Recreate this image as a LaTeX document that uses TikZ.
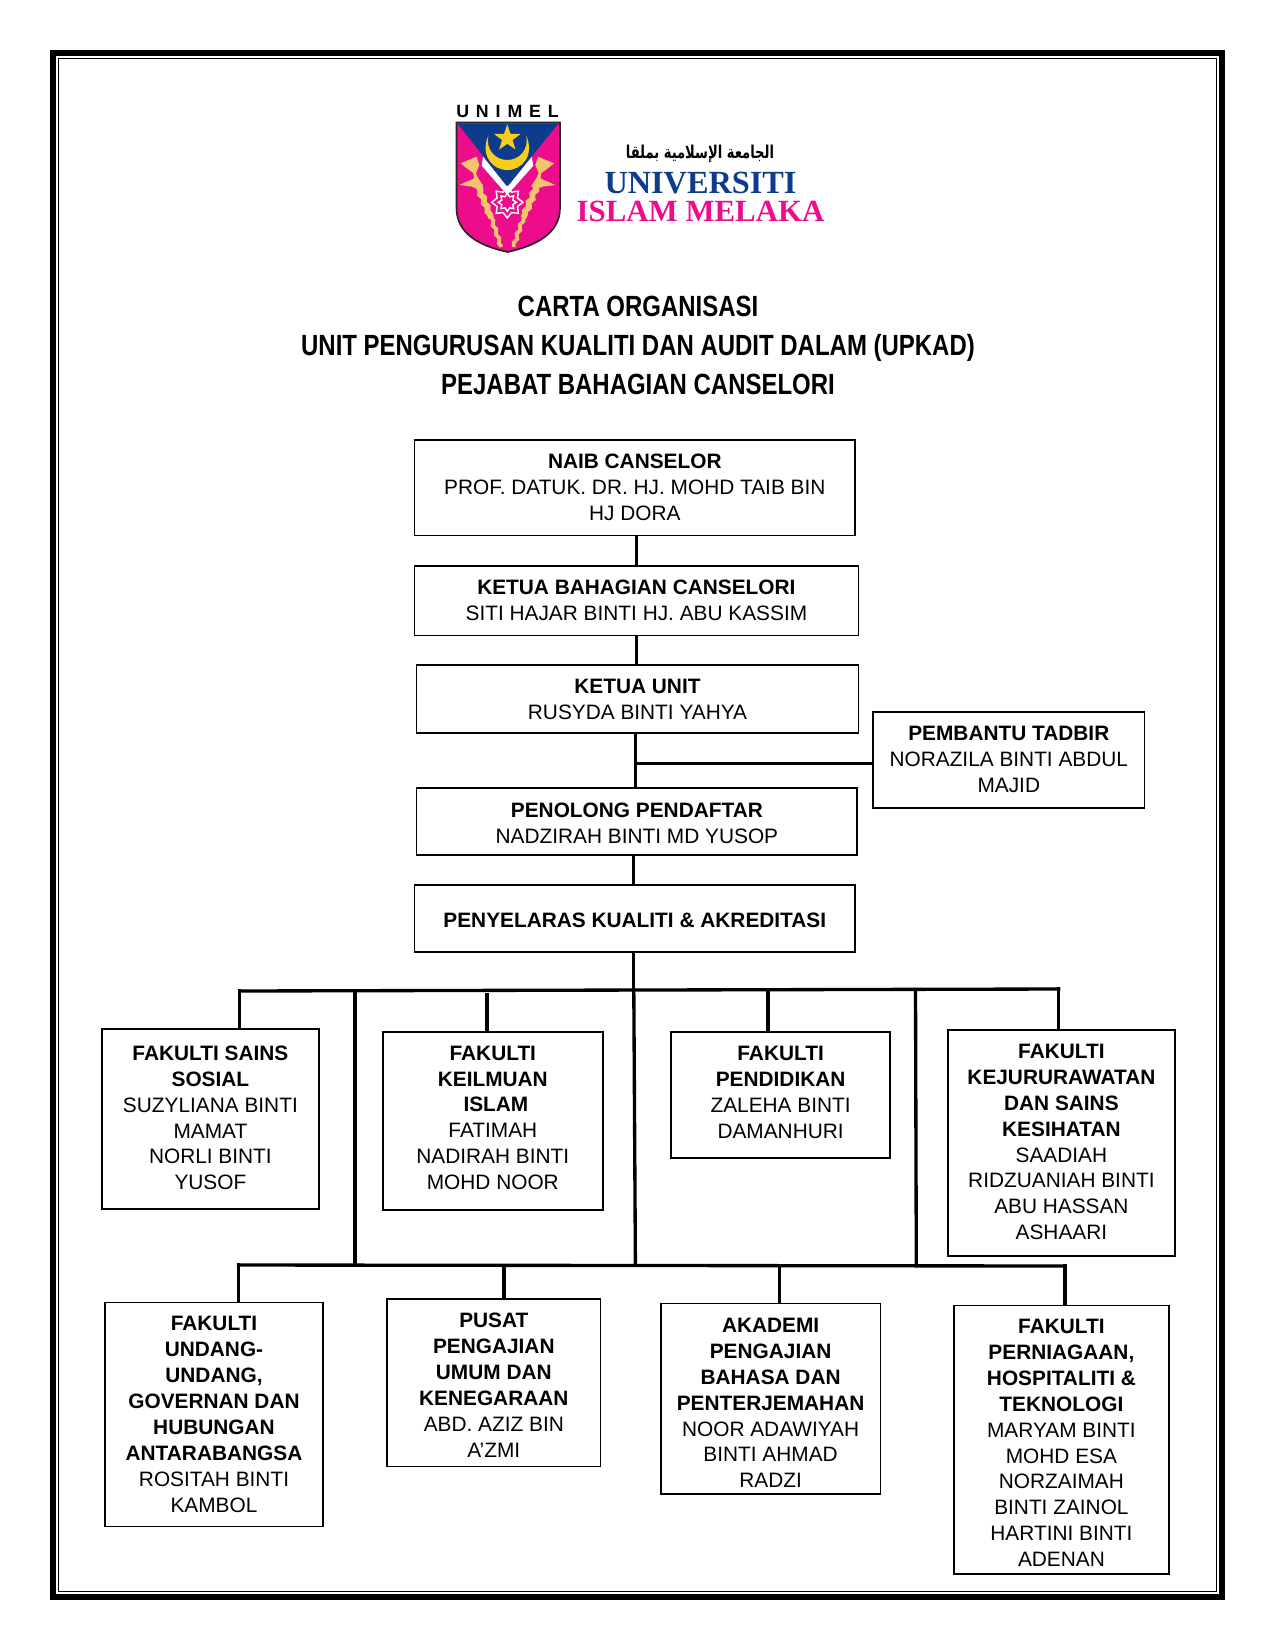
\documentclass[tikz,border=0pt]{standalone}
\usepackage{fontspec}
\setmainfont{Liberation Sans}
\newfontfamily\judulfont[FakeStretch=0.82]{Liberation Sans}
\newfontfamily\logofont{Liberation Serif}
\newfontfamily\arabicfont[Script=Arabic,FakeStretch=0.74]{DejaVu Sans}
\TeXXeTstate=1
\usepackage{xcolor}
\usetikzlibrary{calc,decorations.pathmorphing}
\definecolor{unimelbiru}{HTML}{0D3C8C}
\definecolor{unimelpink}{HTML}{EC0C8C}
\definecolor{unimelemas}{HTML}{F2C46E}
\definecolor{unimelkuning}{HTML}{F7CE1B}
\tikzstyle{jawatan}=[draw, line width=0.85pt, align=center, inner sep=0pt,
  font=\fontsize{10}{12.45}\selectfont]
\tikzstyle{line}=[draw, line width=1.6pt, color=black, line cap=rect]
\tikzstyle{judul}=[align=center, font=\judulfont\bfseries\fontsize{14.03}{18.7}\selectfont]
\tikzstyle{batang}=[unimelemas, decorate, decoration={snake, amplitude=0.55pt, segment length=4.5pt}]
\newcommand{\kotak}[4]{node (p#1) [jawatan, minimum width=#2*0.48pt,
  minimum height=#3*0.48pt] {#4}}
\newcommand{\tajuk}[1]{\textbf{#1}}
\newcommand{\naik}[1]{\rule[-#1]{0pt}{#1}}
\newcommand{\turun}[1]{\rule{0pt}{#1}}

\begin{document}
\begin{tikzpicture}[x=0.48pt,y=-0.48pt]
\useasboundingbox (0,0) rectangle (1275,1650);

  % Page border
\draw [line width=3pt] (53.2,53.2) rectangle (1222.2,1596.8);
\draw [line width=0.7pt] (58.5,58.5) rectangle (1216.7,1591.7);

  % Logo
\path [fill=unimelpink, draw=black!85, line width=0.8pt] (456.5,122.5) -- (560,122.5) -- (560,208)
  .. controls (560,234) and (535,246) .. (507.5,252)
  .. controls (480,246) and (456.5,234) .. (456.5,208) -- cycle;
\fill [white] (483,156.7) -- (507.3,186.7) -- (531.7,156.7) -- (533.3,165.7)
  -- (507.3,195) -- (481.7,165.7) -- cycle;
\fill [unimelbiru] (458,124) -- (558,124) -- (507.3,186.7) -- cycle;
\fill [unimelkuning] (488.3,135.7) .. controls (480,155) and (492,170) .. (507.3,170)
  .. controls (522.6,170) and (534.6,155) .. (526.3,135.7)
  .. controls (529,150) and (519,160) .. (507.3,160)
  .. controls (495.6,160) and (485.6,150) .. (488.3,135.7) -- cycle;
\fill [unimelkuning] (507.3,124.3) \foreach \i [evaluate=\i as \r using {mod(\i,2)==0?14:5.5}] in {1,...,9}
  { -- ($(507.3,138.3)+({-90+36*\i}:\r)$) } -- cycle;
\foreach \sisi in {1,-1}{
  \begin{scope}[shift={(507.3,0)},xscale=\sisi]
    \fill [unimelemas] (-46.7,163.3) -- (-30.7,156.7) -- (-28,165) -- (-31.3,173.3)
      -- (-29,178.3) -- (-24,186) -- (-27,190) -- (-36,186.5) -- (-48,185)
      -- (-33.3,178.5) -- (-34,173) -- (-40.7,168.3) -- cycle;
    \draw [batang, line width=2.8pt] (-29,187) -- (-16,218);
    \draw [batang, line width=1.8pt] (-16,218) -- (-6,247);
  \end{scope}
}
\draw [white, line width=0.7pt] (507.3,186.6) \foreach \i [evaluate=\i as \r using {mod(\i,2)==0?15.7:11}] in {1,...,15}
  { -- ($(507.3,202.3)+({-90+22.5*\i}:\r)$) } -- cycle;
\draw [white, line width=0.7pt] (507.3,193.3) \foreach \i [evaluate=\i as \r using {mod(\i,2)==0?9:6}] in {1,...,15}
  { -- ($(507.3,202.3)+({-90+22.5*\i}:\r)$) } -- cycle;
\path (507.5,111.5) node (unimel) [font=\bfseries\fontsize{8.5}{9}\selectfont\addfontfeature{LetterSpace=39}] {UNIMEL};
\path (700,154) node (jawi) [font=\arabicfont\bfseries\fontsize{8.5}{10}\selectfont] {\beginR الجامعة الإسلامية بملقا\endR};
\path (700.5,183.5) node (univ) [color=unimelbiru, font=\logofont\bfseries\fontsize{15.5}{16}\selectfont] {UNIVERSITI};
\path (700.5,211) node (islam) [color=unimelpink, font=\logofont\bfseries\fontsize{14.8}{16}\selectfont] {ISLAM MELAKA};

  % Title
\path (638,345.3) node (tajuk) [judul]
  {CARTA ORGANISASI\\UNIT PENGURUSAN KUALITI DAN AUDIT DALAM (UPKAD)\\PEJABAT BAHAGIAN CANSELORI};

\begin{scope}[shift={(1,0)}]
  % Draw diagram elements
\path (633.8,487.6) \kotak{1}{440.8}{95.8}{\tajuk{NAIB CANSELOR}\\PROF. DATUK. DR. HJ. MOHD TAIB BIN\\HJ DORA};
\path (635.4,600.7) \kotak{2}{444}{69.4}{\tajuk{KETUA BAHAGIAN CANSELORI}\\SITI HAJAR BINTI HJ. ABU KASSIM};
\path (636.5,699) \kotak{3}{441.9}{68.3}{\tajuk{KETUA UNIT}\\RUSYDA BINTI YAHYA};
\path (1007.8,760) \kotak{4}{271.5}{95.7}{\tajuk{PEMBANTU TADBIR}\\NORAZILA BINTI ABDUL\\MAJID\naik{1pt}};
\path (635.9,821.6) \kotak{5}{440.8}{67.3}{\turun{8.5pt}\tajuk{PENOLONG PENDAFTAR}\\NADZIRAH BINTI MD YUSOP};
\path (633.8,918.4) \kotak{6}{440.8}{67.3}{\turun{8.5pt}\tajuk{PENYELARAS KUALITI \& AKREDITASI}};

\path (209.4,1118.8) \kotak{7}{216.7}{179.8}{\tajuk{FAKULTI SAINS}\\\tajuk{SOSIAL}\\SUZYLIANA BINTI\\MAMAT\\NORLI BINTI\\YUSOF\naik{1pt}};
\path (491.8,1120.9) \kotak{8}{219.8}{177.8}{\tajuk{FAKULTI}\\\tajuk{KEILMUAN}\\\hspace*{3pt}\tajuk{ISLAM}\\FATIMAH\\NADIRAH BINTI\\MOHD NOOR\naik{3pt}};
\path (779.6,1095.2) \kotak{9}{218.9}{126.3}{\tajuk{FAKULTI}\\\tajuk{PENDIDIKAN}\\ZALEHA BINTI\\DAMANHURI\naik{3pt}};
\path (1060.4,1142.9) \kotak{10}{227.3}{225.7}{\tajuk{FAKULTI}\\\tajuk{KEJURURAWATAN}\\\tajuk{DAN SAINS}\\\tajuk{KESIHATAN}\\SAADIAH\\RIDZUANIAH BINTI\\ABU HASSAN\\ASHAARI\naik{1pt}};

\path (213,1414.4) \kotak{11}{217.8}{224}{\tajuk{FAKULTI}\\\tajuk{UNDANG-}\\\tajuk{UNDANG,}\\\tajuk{GOVERNAN DAN}\\\tajuk{HUBUNGAN}\\\tajuk{ANTARABANGSA}\\ROSITAH BINTI\\KAMBOL};
\path (492.8,1382.9) \kotak{12}{213.6}{167.3}{\turun{9pt}\tajuk{PUSAT}\\\tajuk{PENGAJIAN}\\\tajuk{UMUM DAN}\\\tajuk{KENEGARAAN}\\ABD. AZIZ BIN\\A’ZMI};
\path (769.6,1398.6) \kotak{13}{219.9}{190.4}{\turun{11pt}\tajuk{AKADEMI}\\\tajuk{PENGAJIAN}\\\tajuk{BAHASA DAN}\\\tajuk{PENTERJEMAHAN}\\NOOR ADAWIYAH\\BINTI AHMAD\\RADZI};
\path (1060.4,1439.6) \kotak{14}{214.7}{268.3}{\turun{10pt}\tajuk{FAKULTI}\\\tajuk{PERNIAGAAN,}\\\tajuk{HOSPITALITI \&}\\\tajuk{TEKNOLOGI}\\MARYAM BINTI\\MOHD ESA\\NORZAIMAH\\BINTI ZAINOL\\HARTINI BINTI\\ADENAN};

  % Junctions of the tree
\coordinate (j1) at (634.4,763.7);
\coordinate (t0) at (632.8,990.5);
\coordinate (b0) at (634.4,1265);
\coordinate (t1) at (238.7,991);
\coordinate (t2) at (354,991);
\coordinate (t3) at (486,995);
\coordinate (t4) at (767,990);
\coordinate (t5) at (914.5,989.5);
\coordinate (t6) at (1057.7,989);
\coordinate (b1) at (237.5,1265);
\coordinate (b2) at (354,1265);
\coordinate (b3) at (503,1265.3);
\coordinate (b4) at (778.5,1265.6);
\coordinate (b5) at (915.3,1265.8);
\coordinate (b6) at (1064,1266);

  % Draw lines between elements
\path [line] (p2.north |- p1.south) -- (p2.north);
\path [line] (p2.south) -- (p2.south |- p3.north);
\path [line] (j1 |- p3.south) -- (j1 |- p5.north);
\path [line] (j1) -- (j1 -| p4.west);
\path [line] (t0 |- p5.south) -- (t0 |- p6.north);
\path [line] (t0 |- p6.south) -- (t0);
\path [line] (t1) -- (t6);
\path [line] (t0) -- (b0);
\path [line] (t2) -- (b2);
\path [line] (t5) -- (b5);
\path [line] (b1) -- (b6);

\path [line] (t1) -- (t1 |- p7.north);
\path [line] (t3) -- (t3 |- p8.north);
\path [line] (t4) -- (t4 |- p9.north);
\path [line] (t6) -- (t6 |- p10.north);
\path [line] (b1) -- (b1 |- p11.north);
\path [line] (b3) -- (b3 |- p12.north);
\path [line] (b4) -- (b4 |- p13.north);
\path [line] (b6) -- (b6 |- p14.north);
\end{scope}
\end{tikzpicture}
\end{document}
